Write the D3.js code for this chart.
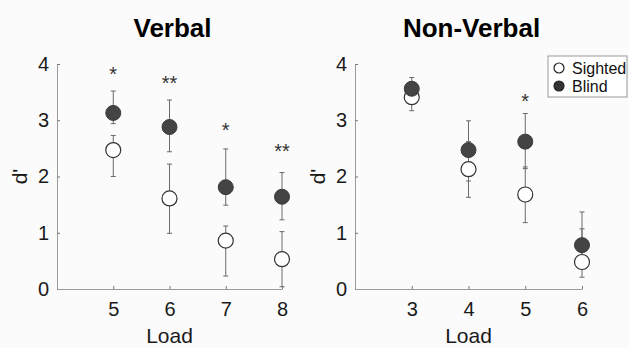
<!DOCTYPE html>
<html>
<head>
<meta charset="utf-8">
<script src="https://cdn.jsdelivr.net/npm/d3@7"></script>
<style>
    body { margin: 0; background: #fbfbfb; }
    svg { display: block; font-family: "Liberation Sans", Arial, Helvetica, sans-serif; }
</style>
</head>
<body>
<svg id="chart" width="629" height="348"></svg>
<script>
// values (d')
const yTicks = [0, 1, 2, 3, 4];

const verbalLoads = [5, 6, 7, 8];
const verbalBlind = [3.13, 2.88, 1.81, 1.64];
const verbalBlindHi = [3.52, 3.36, 2.49, 2.07];
const verbalBlindLo = [2.94, 2.44, 1.49, 1.23];
const verbalSighted = [2.47, 1.61, 0.86, 0.53];
const verbalSightedHi = [2.73, 2.22, 1.12, 1.02];
const verbalSightedLo = [2.00, 0.99, 0.23, 0.04];
const verbalStars = ["*", "**", "*", "**"];
const verbalStarLevel = [3.89, 3.73, 2.90, 2.52];

const nonverbalLoads = [3, 4, 5, 6];
const nonverbalBlind = [3.56, 2.47, 2.62, 0.78];
const nonverbalBlindHi = [3.76, 2.99, 3.12, 1.37];
const nonverbalBlindLo = [3.37, 1.92, 2.14, 0.45];
const nonverbalSighted = [3.41, 2.13, 1.68, 0.48];
const nonverbalSightedHi = [3.60, 2.62, 2.17, 1.07];
const nonverbalSightedLo = [3.17, 1.63, 1.18, 0.21];
const nonverbalStars = ["", "", "*", ""];
const nonverbalStarLevel = [0, 0, 3.42, 0];

const legendLabels = ["Sighted", "Blind"];

const svg = d3.select("#chart");
const plotTop = 64, plotBottom = 289;
const axisColor = "#9a9a9a";
const barColor = "#6a6a6a";
const blindFill = "#444444";

function drawPanel(opts) {
    const x = d3.scaleLinear().domain(opts.xDomain).range(opts.xRange);
    const y = d3.scaleLinear().domain([0, 4]).range([plotBottom, plotTop]);
    const g = svg.append("g");

    // axes, ticks point inward like matlab
    const yAxis = d3.axisLeft(y).tickValues(yTicks).tickFormat(d3.format("d"))
        .tickSizeInner(-3).tickSizeOuter(0).tickPadding(8);
    const yg = g.append("g")
        .attr("transform", "translate(" + opts.xRange[0] + ",0)")
        .call(yAxis);
    const xAxis = d3.axisBottom(x).tickValues(opts.loads).tickFormat(d3.format("d"))
        .tickSizeInner(-3).tickSizeOuter(0).tickPadding(13);
    const xg = g.append("g")
        .attr("transform", "translate(0," + plotBottom + ")")
        .call(xAxis);
    [yg, xg].forEach((a) => {
        a.select(".domain").attr("stroke", axisColor).attr("stroke-width", 1);
        a.selectAll(".tick line").attr("stroke", "#777");
        a.selectAll(".tick text").attr("fill", "#1a1a1a").style("font-size", "20px");
    });
    xg.selectAll(".tick text").attr("dy", "0.71em");

    const rows = opts.loads.map((l, i) => ({
        load: l,
        b: opts.blind[i], bHi: opts.blindHi[i], bLo: opts.blindLo[i],
        s: opts.sighted[i], sHi: opts.sightedHi[i], sLo: opts.sightedLo[i],
        star: opts.stars[i], starLevel: opts.starLevel[i]
    }));

    // error bars first, markers on top
    const bars = [];
    rows.forEach((d) => {
        bars.push({ load: d.load, lo: d.sLo, hi: d.sHi });
        bars.push({ load: d.load, lo: d.bLo, hi: d.bHi });
    });
    const eb = g.append("g").attr("stroke", barColor).attr("stroke-width", 1);
    eb.selectAll(".stem").data(bars).enter().append("line")
        .attr("x1", (d) => x(d.load)).attr("x2", (d) => x(d.load))
        .attr("y1", (d) => y(d.lo)).attr("y2", (d) => y(d.hi));
    const caps = [];
    bars.forEach((d) => { caps.push({ load: d.load, v: d.lo }); caps.push({ load: d.load, v: d.hi }); });
    eb.selectAll(".cap").data(caps).enter().append("line")
        .attr("x1", (d) => x(d.load) - 2.5).attr("x2", (d) => x(d.load) + 2.5)
        .attr("y1", (d) => y(d.v)).attr("y2", (d) => y(d.v));

    g.selectAll(".sighted").data(rows).enter().append("circle")
        .attr("cx", (d) => x(d.load)).attr("cy", (d) => y(d.s)).attr("r", 7.5)
        .attr("fill", "#ffffff").attr("stroke", "#333").attr("stroke-width", 1.2);
    g.selectAll(".blind").data(rows).enter().append("circle")
        .attr("cx", (d) => x(d.load)).attr("cy", (d) => y(d.b)).attr("r", 7.5)
        .attr("fill", blindFill).attr("stroke", "#3a3a3a").attr("stroke-width", 1);

    g.selectAll(".star").data(rows.filter((d) => d.star)).enter().append("text")
        .attr("x", (d) => x(d.load)).attr("y", (d) => y(d.starLevel) + 11)
        .attr("text-anchor", "middle").attr("fill", "#333")
        .style("font-size", "20px").text((d) => d.star);

    const cx = (opts.xRange[0] + opts.xRange[1]) / 2;
    g.append("text").attr("x", cx + 3).attr("y", 37).attr("text-anchor", "middle")
        .style("font-size", "26px").style("font-weight", "bold").attr("fill", "#000")
        .text(opts.title);
    g.append("text").attr("x", cx).attr("y", 343).attr("text-anchor", "middle")
        .style("font-size", "21px").attr("fill", "#1a1a1a").text("Load");
    g.append("text")
        .attr("transform", "translate(" + (opts.xRange[0] - 30) + "," + y(2) + ") rotate(-90)")
        .attr("text-anchor", "middle")
        .style("font-size", "21px").attr("fill", "#1a1a1a").text("d'");
    return { x: x, y: y };
}

drawPanel({
    title: "Verbal", xDomain: [4, 8], xRange: [57, 282], loads: verbalLoads,
    blind: verbalBlind, blindHi: verbalBlindHi, blindLo: verbalBlindLo,
    sighted: verbalSighted, sightedHi: verbalSightedHi, sightedLo: verbalSightedLo,
    stars: verbalStars, starLevel: verbalStarLevel
});
drawPanel({
    title: "Non-Verbal", xDomain: [2, 6], xRange: [355, 582], loads: nonverbalLoads,
    blind: nonverbalBlind, blindHi: nonverbalBlindHi, blindLo: nonverbalBlindLo,
    sighted: nonverbalSighted, sightedHi: nonverbalSightedHi, sightedLo: nonverbalSightedLo,
    stars: nonverbalStars, starLevel: nonverbalStarLevel
});

// legend
const legend = svg.append("g").attr("transform", "translate(548,56)");
legend.append("rect").attr("width", 79).attr("height", 41)
    .attr("fill", "#ffffff").attr("stroke", "#999").attr("stroke-width", 1);
const items = legend.selectAll(".item").data(legendLabels).enter().append("g")
    .attr("transform", (d, i) => "translate(0," + (12 + i * 18) + ")");
items.append("circle").attr("cx", 11).attr("cy", 0).attr("r", 5)
    .attr("fill", (d, i) => i === 0 ? "#fff" : "#333")
    .attr("stroke", "#222").attr("stroke-width", 1.2);
items.append("text").attr("x", 24).attr("y", 6)
    .style("font-size", "16px").attr("fill", "#111").text((d) => d);
</script>
</body>
</html>
